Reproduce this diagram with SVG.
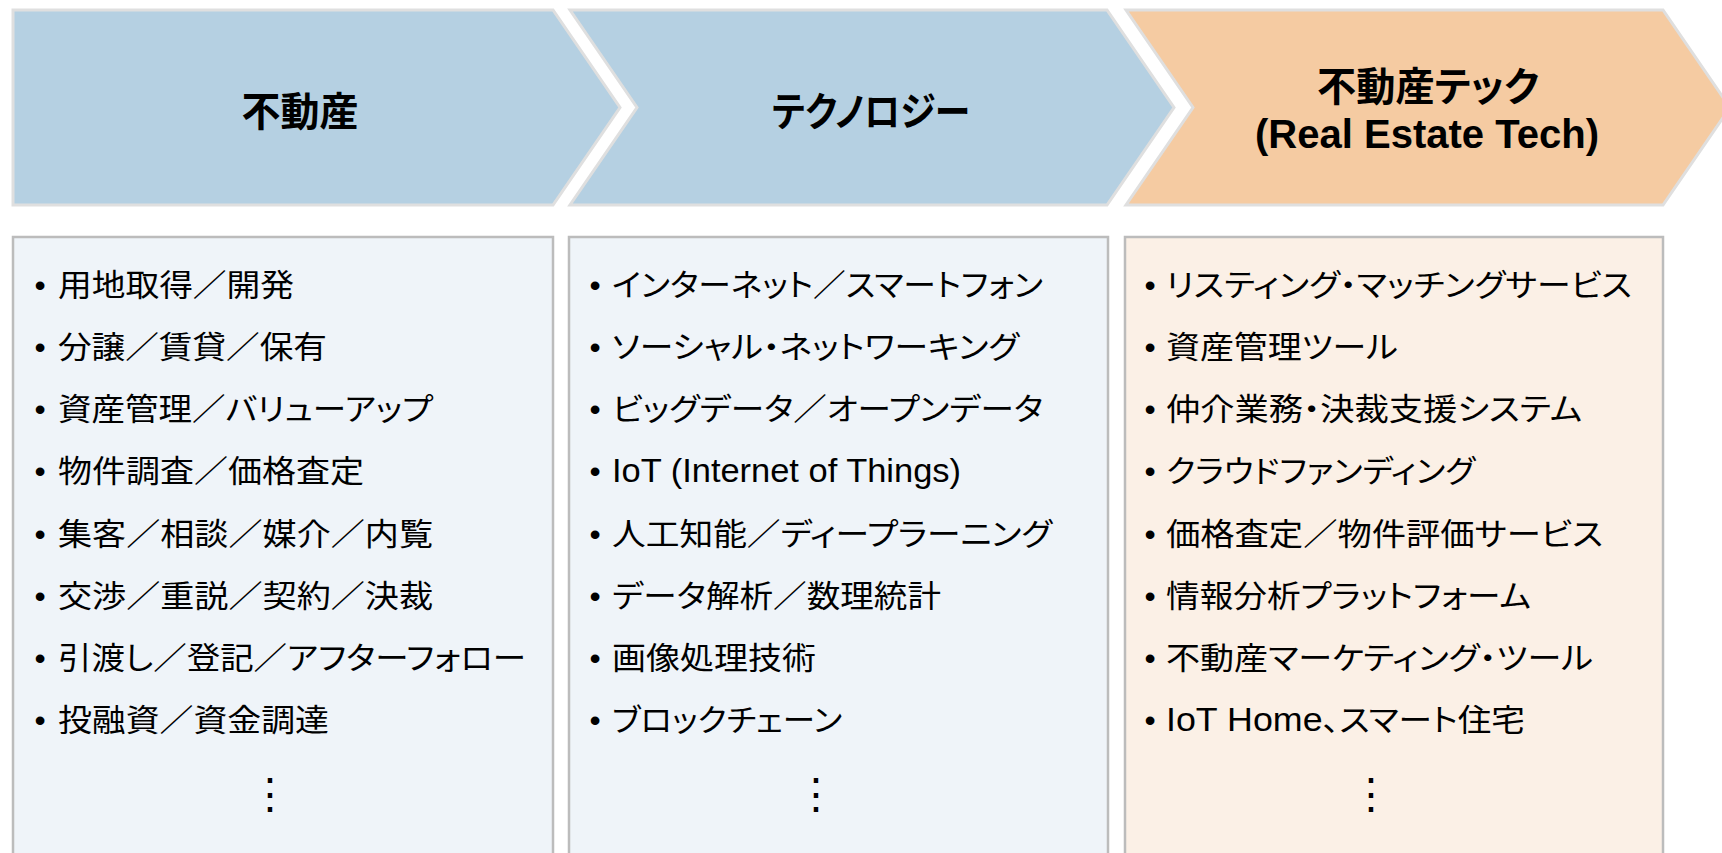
<svg xmlns="http://www.w3.org/2000/svg" width="1722" height="853" viewBox="0 0 1722 853">
<style>
.chev-b{fill:#b5d0e2;stroke:#dfdfdf;stroke-width:3}
.chev-o{fill:#f5cba2;stroke:#dfdfdf;stroke-width:3}
.box-b{fill:#eff4f9;stroke:#bcbcbc;stroke-width:2.5}
.box-o{fill:#fbf0e6;stroke:#bcbcbc;stroke-width:2.5}
.hd{font-family:"Liberation Sans","Noto Sans CJK JP",sans-serif;font-weight:700;font-size:40px;fill:#000;text-anchor:middle;font-feature-settings:"palt"}
.it{font-family:"Liberation Sans","Noto Sans CJK JP",sans-serif;font-size:31px;fill:#000;font-feature-settings:"palt"}
.lat{font-size:33px}
.bul{font-family:"Liberation Sans",sans-serif;font-size:32px;fill:#000;text-anchor:middle}
.dots{font-family:"Noto Sans CJK JP",sans-serif;font-size:42px;fill:#000;text-anchor:middle}
</style>
<rect width="1722" height="853" fill="#ffffff"/>

<g id="chevron-fudosan">
<polygon class="chev-b" points="13,10 553,10 620,107.5 553,205 13,205"/>
<text class="hd" x="300" y="126" textLength="117" lengthAdjust="spacingAndGlyphs">不動産</text>
</g>
<g id="chevron-technology">
<polygon class="chev-b" points="570,10 1107,10 1174,107.5 1107,205 570,205 637,107.5"/>
<text class="hd" x="871" y="126" textLength="198" lengthAdjust="spacingAndGlyphs">テクノロジー</text>
</g>
<g id="chevron-retech">
<polygon class="chev-o" points="1126,10 1663,10 1730,107.5 1663,205 1126,205 1193,107.5"/>
<text class="hd" x="1428" y="101" textLength="222" lengthAdjust="spacingAndGlyphs">不動産テック</text>
<text class="hd" x="1427" y="148" textLength="344" lengthAdjust="spacingAndGlyphs">(Real Estate Tech)</text>
</g>

<g id="list-fudosan">
<rect class="box-b" x="13" y="237" width="540" height="630"/>
<text class="bul" x="40" y="296">•</text><text class="it" x="58" y="296" textLength="236" lengthAdjust="spacingAndGlyphs">用地取得／開発</text>
<text class="bul" x="40" y="358">•</text><text class="it" x="58" y="358" textLength="269" lengthAdjust="spacingAndGlyphs">分譲／賃貸／保有</text>
<text class="bul" x="40" y="420">•</text><text class="it" x="58" y="420" textLength="375" lengthAdjust="spacingAndGlyphs">資産管理／バリューアップ</text>
<text class="bul" x="40" y="482">•</text><text class="it" x="58" y="482" textLength="306" lengthAdjust="spacingAndGlyphs">物件調査／価格査定</text>
<text class="bul" x="40" y="545">•</text><text class="it" x="58" y="545" textLength="375" lengthAdjust="spacingAndGlyphs">集客／相談／媒介／内覧</text>
<text class="bul" x="40" y="607">•</text><text class="it" x="58" y="607" textLength="375" lengthAdjust="spacingAndGlyphs">交渉／重説／契約／決裁</text>
<text class="bul" x="40" y="669">•</text><text class="it" x="58" y="669" textLength="468" lengthAdjust="spacingAndGlyphs">引渡し／登記／アフターフォロー</text>
<text class="bul" x="40" y="731">•</text><text class="it" x="58" y="731" textLength="271" lengthAdjust="spacingAndGlyphs">投融資／資金調達</text>
<text class="dots" x="270" y="808">⋮</text>
</g>

<g id="list-technology">
<rect class="box-b" x="569" y="237" width="539" height="630"/>
<text class="bul" x="595" y="296">•</text><text class="it" x="612" y="296" textLength="431" lengthAdjust="spacingAndGlyphs">インターネット／スマートフォン</text>
<text class="bul" x="595" y="358">•</text><text class="it" x="612" y="358" textLength="407" lengthAdjust="spacingAndGlyphs">ソーシャル・ネットワーキング</text>
<text class="bul" x="595" y="420">•</text><text class="it" x="612" y="420" textLength="431" lengthAdjust="spacingAndGlyphs">ビッグデータ／オープンデータ</text>
<text class="bul" x="595" y="482">•</text><text class="it lat" x="612" y="482" textLength="349" lengthAdjust="spacingAndGlyphs">IoT (Internet of Things)</text>
<text class="bul" x="595" y="545">•</text><text class="it" x="612" y="545" textLength="440" lengthAdjust="spacingAndGlyphs">人工知能／ディープラーニング</text>
<text class="bul" x="595" y="607">•</text><text class="it" x="612" y="607" textLength="329" lengthAdjust="spacingAndGlyphs">データ解析／数理統計</text>
<text class="bul" x="595" y="669">•</text><text class="it" x="612" y="669" textLength="204" lengthAdjust="spacingAndGlyphs">画像処理技術</text>
<text class="bul" x="595" y="731">•</text><text class="it" x="612" y="731" textLength="230" lengthAdjust="spacingAndGlyphs">ブロックチェーン</text>
<text class="dots" x="816" y="808">⋮</text>
</g>

<g id="list-retech">
<rect class="box-o" x="1125" y="237" width="538" height="630"/>
<text class="bul" x="1150" y="296">•</text><text class="it" x="1166" y="296" textLength="466" lengthAdjust="spacingAndGlyphs">リスティング・マッチングサービス</text>
<text class="bul" x="1150" y="358">•</text><text class="it" x="1166" y="358" textLength="232" lengthAdjust="spacingAndGlyphs">資産管理ツール</text>
<text class="bul" x="1150" y="420">•</text><text class="it" x="1166" y="420" textLength="416" lengthAdjust="spacingAndGlyphs">仲介業務・決裁支援システム</text>
<text class="bul" x="1150" y="482">•</text><text class="it" x="1166" y="482" textLength="309" lengthAdjust="spacingAndGlyphs">クラウドファンディング</text>
<text class="bul" x="1150" y="545">•</text><text class="it" x="1166" y="545" textLength="437" lengthAdjust="spacingAndGlyphs">価格査定／物件評価サービス</text>
<text class="bul" x="1150" y="607">•</text><text class="it" x="1166" y="607" textLength="365" lengthAdjust="spacingAndGlyphs">情報分析プラットフォーム</text>
<text class="bul" x="1150" y="669">•</text><text class="it" x="1166" y="669" textLength="427" lengthAdjust="spacingAndGlyphs">不動産マーケティング・ツール</text>
<text class="bul" x="1150" y="731">•</text><text class="it" x="1166" y="731" textLength="359" lengthAdjust="spacingAndGlyphs"><tspan class="lat">IoT Home</tspan>、スマート住宅</text>
<text class="dots" x="1371" y="808">⋮</text>
</g>
</svg>
